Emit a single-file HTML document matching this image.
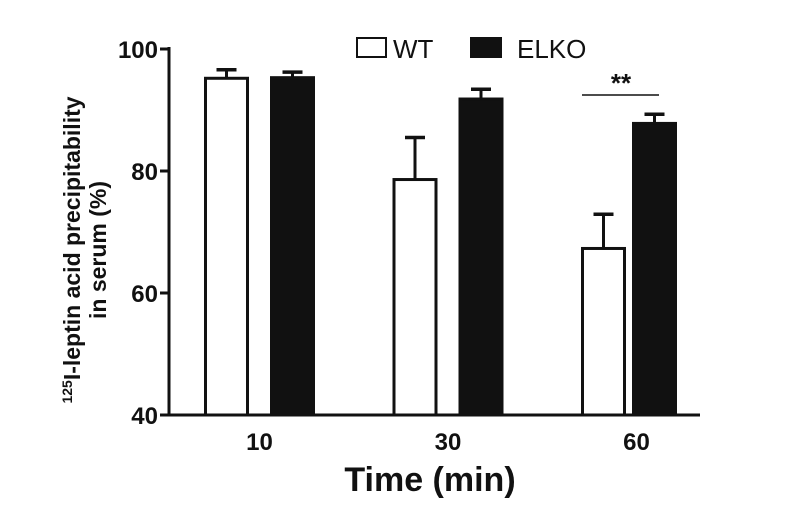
<!DOCTYPE html>
<html><head><meta charset="utf-8"><style>
body{margin:0;background:#fff;}
svg text{font-family:"Liberation Sans",Arial,sans-serif;fill:#111;}
</style></head><body>
<svg id="chart" width="800" height="520">
<g id="axes"></g><g id="bars"></g>
</svg>
<script>
const categories = ["10","30","60"];
const wtValues = [95.2, 78.6, 67.3];
const wtErrors = [1.4, 6.9, 5.6];
const elkoValues = [95.3, 91.8, 87.8];
const elkoErrors = [0.9, 1.6, 1.5];
const yTicks = [40, 60, 80, 100];

const NS="http://www.w3.org/2000/svg";
const svg=document.getElementById('chart');
const y0=415, y1=49, vMin=40, vMax=100;
function yScale(v){return y0-(v-vMin)/(vMax-vMin)*(y0-y1);}
const groupStart=[204,393,581];
function xScale(i){return groupStart[0]+i*(groupStart[2]-groupStart[0])/2;}
const barW=45, gap=21;
function mk(tag,attrs,parent,text){const e=document.createElementNS(NS,tag);for(const k in attrs)e.setAttribute(k,attrs[k]);if(text!==undefined)e.textContent=text;(parent||svg).appendChild(e);return e;}

const ax=document.getElementById('axes');
let l=mk('line',{x1:169,y1:y1-2,x2:169,y2:y0+1,stroke:'#111','stroke-width':3},ax);


l=mk('line',{x1:168,y1:y0,x2:700,y2:y0,stroke:'#111','stroke-width':3},ax);


yTicks.forEach(t=>{
  const y=yScale(t);
  let tk=mk('line',{x1:160,y1:y,x2:169,y2:y,stroke:'#111','stroke-width':3},ax);
  
  
  let tl=mk('text',{x:158,y:y+9,'text-anchor':'end','font-size':24,'font-weight':'bold'},ax,String(t));
  
  
});
categories.forEach((c,i)=>{
  const cx=xScale(i)+barW+gap/2;
  let tl=mk('text',{x:cx,y:450,'text-anchor':'middle','font-size':24,'font-weight':'bold'},ax,c);
  
  
});
let xt=mk('text',{x:430,y:491,'text-anchor':'middle','font-size':34,'font-weight':'bold'},ax,'Time (min)');


let yt=mk('text',{transform:'translate(80,250) rotate(-90)','text-anchor':'middle','font-size':23,'font-weight':'bold'},ax);


mk('tspan',{'font-size':14,dy:-8},yt,'125');
mk('tspan',{'font-size':23,dy:8},yt,'I-leptin acid precipitability');
let yt2=mk('text',{transform:'translate(106,250) rotate(-90)','text-anchor':'middle','font-size':23,'font-weight':'bold'},ax,'in serum (%)');



const bg=document.getElementById('bars');
function drawBar(x,v,e,fill,name){
  const top=yScale(v), cap=yScale(v+e);
  let ln=mk('line',{x1:x+barW/2,y1:cap,x2:x+barW/2,y2:top,stroke:'#111','stroke-width':3},bg);
  
  
  let cp=mk('line',{x1:x+barW/2-10,y1:cap,x2:x+barW/2+10,y2:cap,stroke:'#111','stroke-width':3.5},bg);
  
  
  let r=mk('rect',{x:x+1.5,y:top,width:barW-3,height:y0-top,fill:fill,stroke:'#111','stroke-width':3},bg);
  
  
}
categories.forEach((c,i)=>{
  const x=xScale(i);
  drawBar(x,wtValues[i],wtErrors[i],'#fff','bar-wt-'+c);
  drawBar(x+barW+gap-(i==2?15:0),elkoValues[i],elkoErrors[i],'#111','bar-elko-'+c);
});
let sl=mk('line',{x1:582,y1:95,x2:659,y2:95,stroke:'#111','stroke-width':1.5});


let st=mk('text',{x:621,y:92,'text-anchor':'middle','font-size':26,'font-weight':'bold'},svg,'**');


let lb=mk('rect',{x:357,y:38,width:29,height:19,fill:'#fff',stroke:'#111','stroke-width':2});


let lt=mk('text',{x:393,y:58,'font-size':26},svg,'WT');


let lb2=mk('rect',{x:470,y:37,width:32,height:21,fill:'#111'});


let lt2=mk('text',{x:517,y:58,'font-size':26},svg,'ELKO');


</script>
</body></html>
